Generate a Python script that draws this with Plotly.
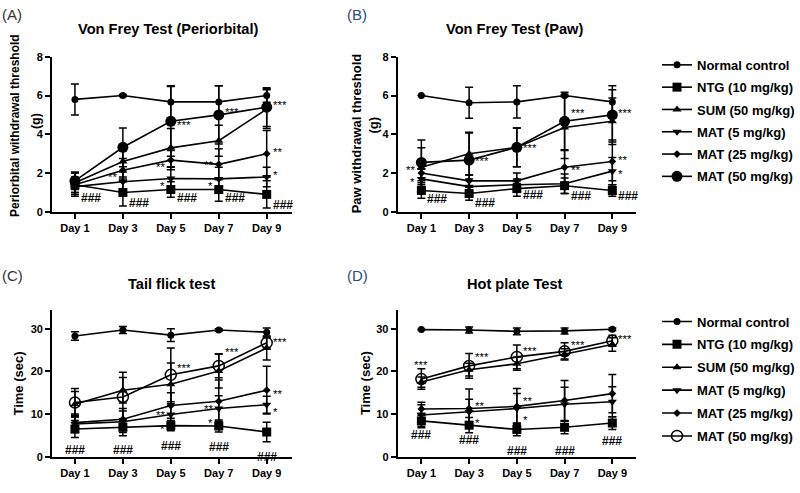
import plotly.graph_objects as go

days = ["Day 1", "Day 3", "Day 5", "Day 7", "Day 9"]
groups = ["Normal control", "NTG (10 mg/kg)", "SUM (50 mg/kg)",
          "MAT (5 mg/kg)", "MAT (25 mg/kg)", "MAT (50 mg/kg)"]

# ---- Panel A: Von Frey (Periorbital), threshold (g)
a_means = {
    "Normal control": [5.8, 6.0, 5.67, 5.67, 6.0],
    "NTG (10 mg/kg)": [1.4, 1.0, 1.15, 1.15, 0.9],
    "SUM (50 mg/kg)": [1.5, 2.6, 3.3, 3.67, 5.3],
    "MAT (5 mg/kg)": [1.3, 1.55, 1.72, 1.7, 1.8],
    "MAT (25 mg/kg)": [1.4, 2.15, 2.67, 2.45, 3.0],
    "MAT (50 mg/kg)": [1.6, 3.33, 4.67, 5.0, 5.4],
}
a_errs = {
    "Normal control": [0.8, 0.05, 0.83, 0.83, 0.35],
    "NTG (10 mg/kg)": [0.6, 0.7, 0.4, 0.6, 0.7],
    "SUM (50 mg/kg)": [0.5, 0.8, 1.0, 0.8, 1.0],
    "MAT (5 mg/kg)": [0.4, 0.5, 0.6, 0.6, 0.5],
    "MAT (25 mg/kg)": [0.4, 0.6, 0.5, 0.8, 1.2],
    "MAT (50 mg/kg)": [0.45, 1.0, 1.8, 1.5, 1.0],
}
# ---- Panel B: Von Frey (Paw), threshold (g)
b_means = {
    "Normal control": [6.0, 5.63, 5.67, 6.0, 5.67],
    "NTG (10 mg/kg)": [1.1, 0.95, 1.2, 1.35, 1.1],
    "SUM (50 mg/kg)": [2.3, 3.0, 3.33, 4.35, 4.67],
    "MAT (5 mg/kg)": [1.7, 1.3, 1.4, 1.45, 2.1],
    "MAT (25 mg/kg)": [2.0, 1.6, 1.6, 2.3, 2.6],
    "MAT (50 mg/kg)": [2.55, 2.67, 3.33, 4.67, 5.0],
}
b_errs = {
    "Normal control": [0.0, 0.8, 0.83, 0.05, 0.83],
    "NTG (10 mg/kg)": [0.4, 0.35, 0.4, 0.4, 0.3],
    "SUM (50 mg/kg)": [1.0, 1.1, 1.0, 1.6, 1.2],
    "MAT (5 mg/kg)": [0.5, 0.4, 0.3, 0.5, 0.7],
    "MAT (25 mg/kg)": [0.4, 0.3, 0.4, 0.9, 1.0],
    "MAT (50 mg/kg)": [1.15, 1.4, 1.0, 1.5, 1.3],
}
# ---- Panel C: Tail flick test, time (sec)
c_means = {
    "Normal control": [28.3, 29.7, 28.5, 29.7, 29.2],
    "NTG (10 mg/kg)": [6.5, 6.9, 7.3, 7.2, 5.8],
    "SUM (50 mg/kg)": [12.3, 15.6, 17.0, 20.1, 25.5],
    "MAT (5 mg/kg)": [7.7, 8.2, 9.9, 11.3, 12.2],
    "MAT (25 mg/kg)": [8.0, 8.8, 12.0, 13.0, 15.6],
    "MAT (50 mg/kg)": [12.7, 14.0, 19.2, 21.3, 26.7],
}
c_errs = {
    "Normal control": [1.0, 0.8, 1.5, 0.3, 1.0],
    "NTG (10 mg/kg)": [2.0, 2.0, 1.2, 1.4, 2.3],
    "SUM (50 mg/kg)": [3.0, 3.0, 5.0, 4.0, 2.8],
    "MAT (5 mg/kg)": [2.0, 2.5, 2.5, 3.0, 2.0],
    "MAT (25 mg/kg)": [2.0, 2.5, 3.0, 5.0, 5.6],
    "MAT (50 mg/kg)": [3.3, 5.8, 6.3, 2.8, 1.2],
}
# ---- Panel D: Hot plate test, time (sec)
d_means = {
    "Normal control": [29.8, 29.7, 29.4, 29.5, 29.9],
    "NTG (10 mg/kg)": [8.4, 7.4, 6.4, 6.9, 7.9],
    "SUM (50 mg/kg)": [17.5, 20.4, 21.8, 24.1, 26.3],
    "MAT (5 mg/kg)": [9.8, 10.5, 11.3, 12.3, 12.9],
    "MAT (25 mg/kg)": [11.2, 11.3, 11.8, 13.2, 14.8],
    "MAT (50 mg/kg)": [18.2, 21.3, 23.4, 24.7, 27.2],
}
d_errs = {
    "Normal control": [0.1, 0.7, 0.8, 0.7, 0.3],
    "NTG (10 mg/kg)": [1.3, 1.8, 1.5, 1.5, 1.5],
    "SUM (50 mg/kg)": [1.2, 1.5, 1.5, 1.2, 1.6],
    "MAT (5 mg/kg)": [3.0, 3.0, 3.5, 4.0, 3.5],
    "MAT (25 mg/kg)": [1.0, 4.6, 4.2, 4.7, 4.5],
    "MAT (50 mg/kg)": [2.4, 2.9, 2.8, 2.0, 1.3],
}

# significance labels: (day index, y, text, side)
a_marks = [(0, 0.7, "###", "r"), (1, 0.45, "###", "r"), (2, 0.7, "###", "r"),
           (3, 0.7, "###", "r"), (4, 0.35, "###", "r"),
           (1, 1.8, "**", "l"), (2, 2.3, "**", "l"), (2, 1.35, "*", "l"),
           (2, 4.5, "***", "r"), (3, 2.4, "**", "l"), (3, 1.35, "*", "l"),
           (3, 5.15, "***", "r"), (4, 5.5, "***", "r"), (4, 3.1, "**", "r"),
           (4, 1.9, "*", "r")]
b_marks = [(0, 0.65, "###", "r"), (1, 0.45, "###", "r"), (2, 0.85, "###", "r"),
           (3, 0.8, "###", "r"), (4, 0.8, "###", "r"),
           (0, 2.15, "**", "l"), (0, 1.55, "*", "l"), (1, 2.6, "***", "r"),
           (2, 3.3, "***", "r"), (3, 5.1, "***", "r"), (3, 2.15, "**", "r"),
           (4, 5.1, "***", "r"), (4, 2.7, "**", "r"), (4, 1.95, "*", "r")]
c_marks = [(0, 1.5, "###", "c"), (1, 1.5, "###", "c"), (2, 2.6, "###", "c"),
           (3, 2.3, "###", "c"), (4, 0.0, "###", "c"),
           (2, 20.8, "***", "r"), (2, 9.8, "**", "l"), (2, 6.6, "*", "l"),
           (3, 24.6, "***", "r"), (3, 11.1, "**", "l"), (3, 8.0, "*", "l"),
           (4, 26.8, "***", "r"), (4, 14.6, "**", "r"), (4, 10.6, "*", "r")]
d_marks = [(0, 5.2, "###", "c"), (1, 3.9, "###", "c"), (2, 1.3, "###", "c"),
           (3, 1.4, "###", "c"), (4, 3.6, "###", "c"),
           (0, 21.5, "***", "c"), (1, 23.3, "***", "r"), (1, 11.8, "**", "r"),
           (1, 8.0, "*", "r"), (2, 24.7, "***", "r"), (2, 13.0, "**", "r"),
           (2, 8.6, "*", "r"), (3, 26.3, "***", "r"), (4, 27.6, "***", "r")]

FONT = "Liberation Sans, Arial, sans-serif"
W, H = 800, 493

styles_top = {
    "Normal control": dict(symbol="circle", size=7),
    "NTG (10 mg/kg)": dict(symbol="square", size=9),
    "SUM (50 mg/kg)": dict(symbol="triangle-up", size=8),
    "MAT (5 mg/kg)": dict(symbol="triangle-down", size=8),
    "MAT (25 mg/kg)": dict(symbol="diamond", size=6),
    "MAT (50 mg/kg)": dict(symbol="circle", size=11),
}
styles_bot = dict(styles_top)
styles_bot["MAT (50 mg/kg)"] = dict(symbol="circle-open", size=11, line=dict(width=1.5, color="black"))

fig = go.Figure()

panels = [
    ("x", "y", a_means, a_errs, styles_top, "legend", False),
    ("x2", "y2", b_means, b_errs, styles_top, "legend", True),
    ("x3", "y3", c_means, c_errs, styles_bot, "legend2", False),
    ("x4", "y4", d_means, d_errs, styles_bot, "legend2", True),
]
for xa, ya, means, errs, sty, leg, show in panels:
    for g in groups:
        m = dict(color="black")
        m.update(sty[g])
        fig.add_trace(go.Scatter(
            x=days, y=means[g], xaxis=xa, yaxis=ya, name=g,
            mode="lines+markers", line=dict(color="black", width=1.6),
            marker=m, cliponaxis=False,
            error_y=dict(type="data", array=errs[g], visible=True,
                         color="black", thickness=1.5, width=4),
            showlegend=show, legend=leg, legendgroup=leg + g,
        ))

def px_x(p):
    return p / W

def px_y(p):
    return (H - p) / H

axis_common = dict(showline=True, linecolor="black", linewidth=1.6, ticks="outside",
                   ticklen=5, tickwidth=1.6, tickcolor="black", showgrid=False,
                   zeroline=False,
                   tickfont=dict(family=FONT, size=11, color="black", weight="bold"))

left_dom = [px_x(52), px_x(292)]
right_dom = [px_x(398), px_x(637)]
top_dom = [px_y(211), px_y(52)]
bot_dom = [px_y(462), px_y(312)]

legend_font = dict(family=FONT, size=13, color="black", weight="bold")
fig.update_layout(
    width=W, height=H, margin=dict(l=0, r=0, t=0, b=0),
    paper_bgcolor="white", plot_bgcolor="white",
    font=dict(family=FONT, color="black"),
    xaxis=dict(domain=left_dom, anchor="y", type="category", range=[-0.48, 4.52], **axis_common),
    yaxis=dict(domain=top_dom, anchor="x", range=[0, 8], tickvals=[0, 2, 4, 6, 8], **axis_common),
    xaxis2=dict(domain=right_dom, anchor="y2", type="category", range=[-0.5, 4.5], **axis_common),
    yaxis2=dict(domain=top_dom, anchor="x2", range=[0, 8], tickvals=[0, 2, 4, 6, 8], **axis_common),
    xaxis3=dict(domain=left_dom, anchor="y3", type="category", range=[-0.48, 4.52], **axis_common),
    yaxis3=dict(domain=bot_dom, anchor="x3", range=[0, 34.3], tickvals=[0, 10, 20, 30], **axis_common),
    xaxis4=dict(domain=right_dom, anchor="y4", type="category", range=[-0.5, 4.5], **axis_common),
    yaxis4=dict(domain=bot_dom, anchor="x4", range=[0, 34.3], tickvals=[0, 10, 20, 30], **axis_common),
    legend=dict(x=px_x(658), y=px_y(45), xanchor="left", yanchor="top",
                font=legend_font, tracegroupgap=2.4, bgcolor="rgba(0,0,0,0)"),
    legend2=dict(x=px_x(658), y=px_y(308), xanchor="left", yanchor="top",
                 font=legend_font, tracegroupgap=3.0, bgcolor="rgba(0,0,0,0)"),
)

ann = []
# panel titles
for text, x, y in [("Von Frey Test (Periorbital)", 168, 24), ("Von Frey Test (Paw)", 515, 24),
                   ("Tail flick test", 172, 285), ("Hot plate Test", 516, 285)]:
    ann.append(dict(text=text, x=px_x(x), y=px_y(y), xref="paper", yref="paper",
                    showarrow=False, xanchor="center", yanchor="middle",
                    font=dict(family=FONT, size=14.6, color="black", weight="bold")))
# panel letters
for text, x, y, col in [("(A)", 0, 9, "#333333"), ("(B)", 345, 9, "#2b4c7e"),
                        ("(C)", 0, 276, "#333333"), ("(D)", 345, 276, "#2b4c7e")]:
    ann.append(dict(text=text, x=px_x(x), y=px_y(y), xref="paper", yref="paper",
                    showarrow=False, xanchor="left", yanchor="middle",
                    font=dict(family=FONT, size=15, color=col)))
# y-axis titles
for text, x, y, size in [("Periorbital withdrawal threshold", 15, 122, 12),
                         ("(g)", 36, 118, 12.5),
                         ("Paw withdrawal threshold", 357, 131, 13),
                         ("(g)", 373, 122, 13),
                         ("Time (sec)", 19, 387, 13),
                         ("Time (sec)", 366, 387, 13)]:
    ann.append(dict(text=text, x=px_x(x), y=px_y(y), xref="paper", yref="paper",
                    showarrow=False, textangle=-90, xanchor="center", yanchor="middle",
                    font=dict(family=FONT, size=size, color="black", weight="bold")))
# significance marks
for xa, ya, marks in [("x", "y", a_marks), ("x2", "y2", b_marks),
                      ("x3", "y3", c_marks), ("x4", "y4", d_marks)]:
    for i, yv, txt, side in marks:
        if side == "r":
            xanchor, xshift = "left", 4
        elif side == "l":
            xanchor, xshift = "right", -4
        else:
            xanchor, xshift = "center", 0
        if txt == "###":
            f = dict(family=FONT, size=12, color="black", weight="bold")
        else:
            f = dict(family=FONT, size=11.5, color="black")
        ann.append(dict(text=txt, x=days[i], y=yv, xref=xa, yref=ya, showarrow=False,
                        xanchor=xanchor, xshift=xshift, yanchor="middle", font=f))
fig.update_layout(annotations=ann)

fig.write_html("out.html", config={"displayModeBar": False},
               post_script="document.body.style.margin='0px';")
